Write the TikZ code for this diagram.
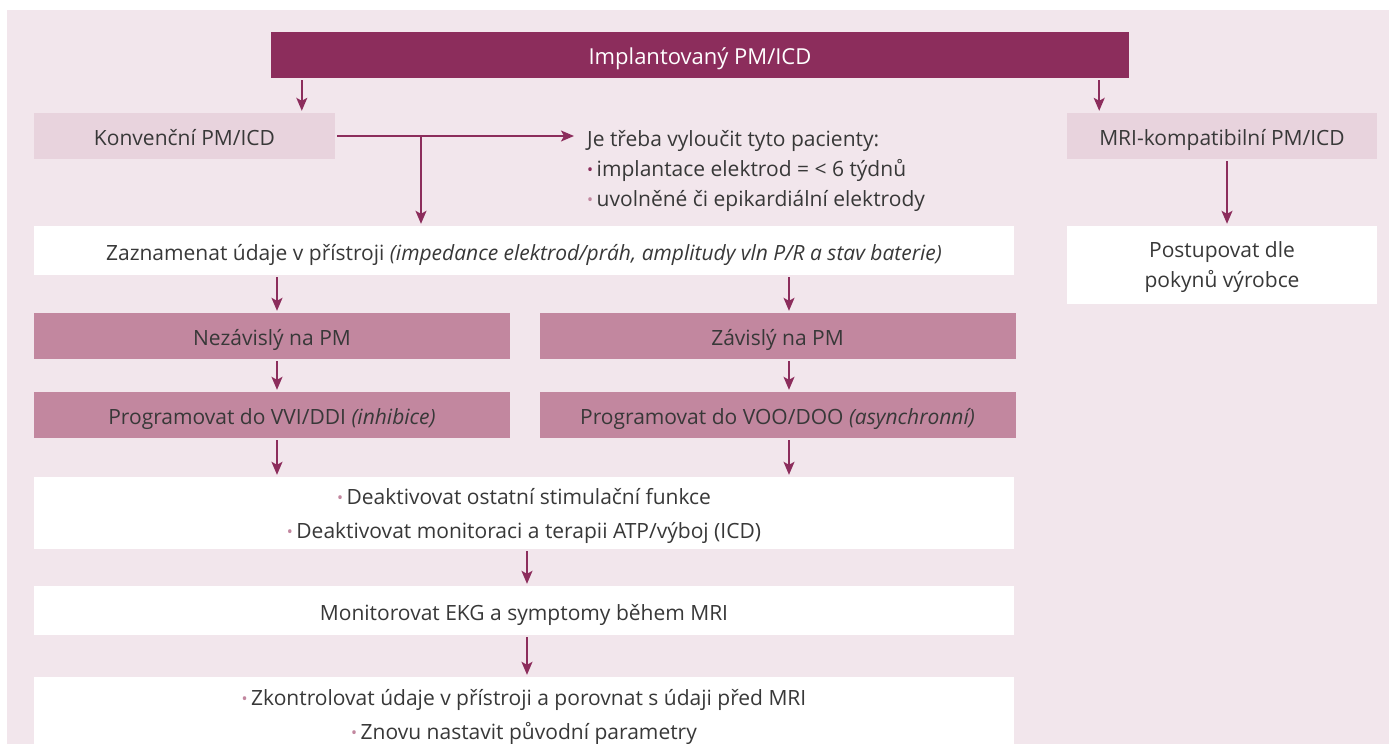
\documentclass[tikz,border=0pt]{standalone}
\usepackage{fontspec}
\setmainfont{Open Sans}
\usetikzlibrary{arrows.meta}
\definecolor{bgpink}{HTML}{F2E6EC}
\definecolor{darkberry}{HTML}{8C2D5C}
\definecolor{palepink}{HTML}{E8D3DD}
\definecolor{midpink}{HTML}{C2879F}
\definecolor{txtgray}{HTML}{383838}
\newcommand{\bul}[1]{{\color{#1}\fontsize{16}{16}\selectfont\raisebox{1pt}{•}}\,}
\begin{document}
\begin{tikzpicture}[x=1pt,y=-1pt,
  box/.style={rectangle, inner sep=0pt, text=txtgray, align=center, font=\fontsize{21}{30}\selectfont,
    execute at begin node=\rule[-6pt]{0pt}{31pt}},
  topbox/.style={box, fill=darkberry, text=white, minimum height=46pt, font=\fontsize{22}{30}\selectfont},
  pale/.style={box, fill=palepink, minimum height=46pt},
  mid/.style={box, fill=midpink, minimum width=476pt, minimum height=46pt},
  plain/.style={box, fill=white},
  arr/.style={draw=darkberry, line width=1.5pt, -{Stealth[length=13pt,width=11pt,inset=3pt]}, shorten <=2pt, shorten >=2pt}]
\useasboundingbox (0,0) rectangle (1389,744);
\clip (0,0) rectangle (1389,744);
\fill[bgpink] (7,10) rectangle (1389,744);

\node[topbox, minimum width=858pt] (impl) at (700,55) {Implantovaný PM/ICD};
\node[pale, minimum width=301pt] (konv) at (184.5,136) {Konvenční PM/ICD};
\node[pale, minimum width=310pt] (mri) at (1222,136) {MRI-kompatibilní PM/ICD};
\node[box, anchor=west, align=left, text depth=-6pt] (excl) at (587,168) {Je třeba vyloučit tyto pacienty:\\
  \bul{darkberry}implantace elektrod = < 6 týdnů\\
  \bul{midpink}uvolněné či epikardiální elektrody};
\node[plain, minimum width=980pt, minimum height=49pt] (zazn) at (524,250.5) {Zaznamenat údaje v přístroji \textit{(impedance elektrod/práh, amplitudy vln P/R a stav baterie)}};
\node[plain, minimum width=310pt, minimum height=78pt, text depth=-13pt] (post) at (1222,265) {Postupovat dle\\pokynů výrobce};
\node[mid] (nez) at (272,336) {Nezávislý na PM};
\node[mid] (zav) at (777.5,336) {Závislý na PM};
\node[mid] (vvi) at (272,415) {Programovat do VVI/DDI \textit{(inhibice)}};
\node[mid] (voo) at (777.5,415) {Programovat do VOO/DOO \textit{(asynchronní)}};
\node[plain, minimum width=980pt, minimum height=72pt, text depth=-4pt, font=\fontsize{21}{34}\selectfont] (deak) at (524,513) {\bul{midpink}Deaktivovat ostatní stimulační funkce\\
  \bul{midpink}Deaktivovat monitoraci a terapii ATP/výboj (ICD)};
\node[plain, minimum width=980pt, minimum height=49pt] (moni) at (524,610.5) {Monitorovat EKG a symptomy během MRI};
\node[plain, minimum width=980pt, minimum height=74pt, text depth=-3pt, font=\fontsize{21}{34}\selectfont] (kontr) at (524,714) {\bul{midpink}Zkontrolovat údaje v přístroji a porovnat s údaji před MRI\\
  \bul{midpink}Znovu nastavit původní parametry};

\coordinate (split) at (421,136);
\draw[arr] ([xshift=31pt]impl.south west) -- ([xshift=31pt]impl.south west |- konv.north);
\draw[arr] ([xshift=-30pt]impl.south east) -- ([xshift=-30pt]impl.south east |- mri.north);
\draw[arr, shorten >=13pt] (konv.east) -- (excl.west |- konv.east);
\draw[arr, shorten <=0pt] (split) -- (split |- zazn.north);
\draw[arr] ([xshift=5pt]mri.south) -- ([xshift=5pt]post.north);
\draw[arr] ([xshift=5pt]nez.north |- zazn.south) -- ([xshift=5pt]nez.north);
\draw[arr] ([xshift=11.5pt]zav.north |- zazn.south) -- ([xshift=11.5pt]zav.north);
\draw[arr] ([xshift=5pt]nez.south) -- ([xshift=5pt]vvi.north);
\draw[arr] ([xshift=11.5pt]zav.south) -- ([xshift=11.5pt]voo.north);
\draw[arr] ([xshift=5pt]vvi.south) -- ([xshift=5pt]vvi.south |- deak.north);
\draw[arr] ([xshift=11.5pt]voo.south) -- ([xshift=11.5pt]voo.south |- deak.north);
\draw[arr] ([xshift=3pt]deak.south) -- ([xshift=3pt]moni.north);
\draw[arr] ([xshift=3pt]moni.south) -- ([xshift=3pt]kontr.north);
\end{tikzpicture}
\end{document}
